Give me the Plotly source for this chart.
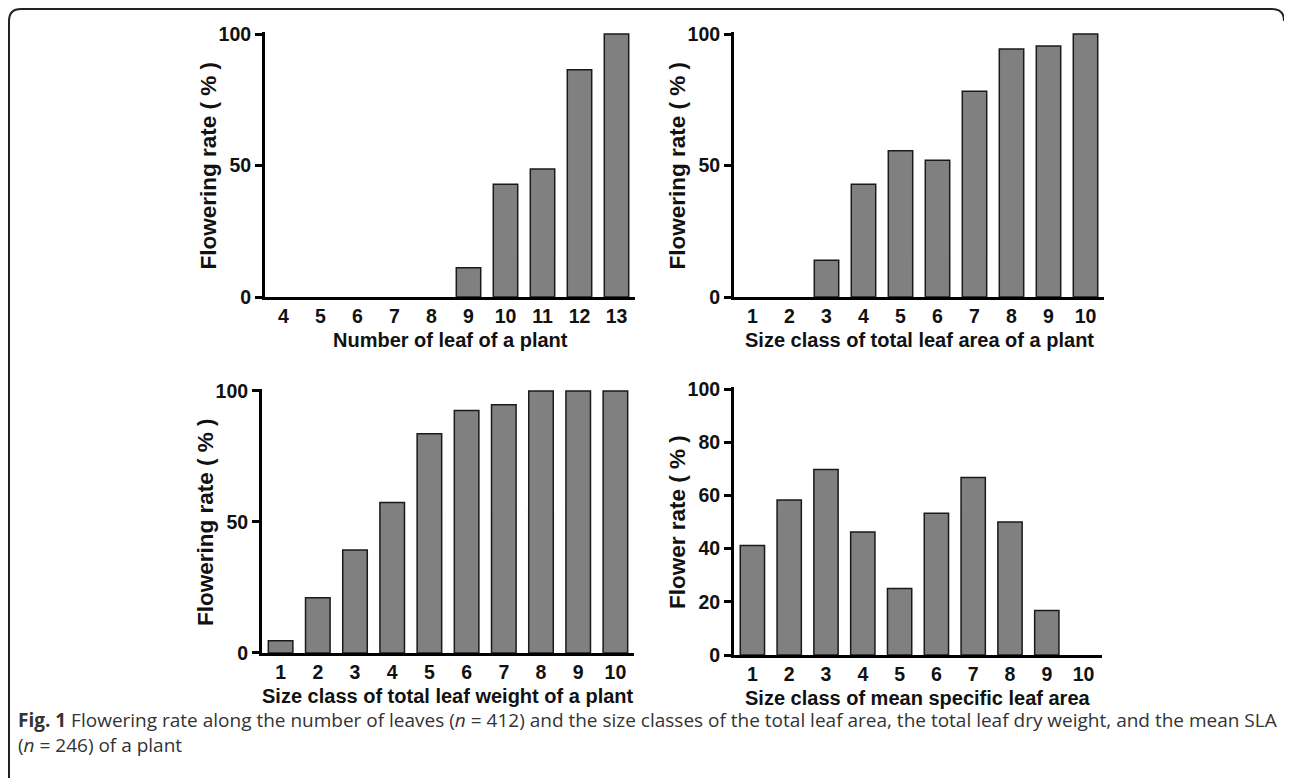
import plotly.graph_objects as go

W, H = 1292, 778

# ---- data ----
leaf_number = ["4", "5", "6", "7", "8", "9", "10", "11", "12", "13"]
flower_by_leaf_number = [0, 0, 0, 0, 0, 11.1, 42.9, 48.7, 86.4, 100]

size_class = ["1", "2", "3", "4", "5", "6", "7", "8", "9", "10"]
flower_by_leaf_area = [0, 0, 14.0, 42.9, 55.6, 52.0, 78.2, 94.3, 95.4, 100]
flower_by_leaf_weight = [4.7, 21.1, 39.3, 57.4, 83.7, 92.6, 94.8, 100, 100, 100]
flower_by_sla = [41.2, 58.3, 69.7, 46.2, 25.0, 53.3, 66.7, 50.0, 16.7, 0]

x_titles = ["Number of leaf of a plant",
            "Size class of total leaf area of a plant",
            "Size class of total leaf weight of a plant",
            "Size class of mean specific leaf area"]
y_titles = ["Flowering rate ( % )", "Flowering rate ( % )",
            "Flowering rate ( % )", "Flower rate ( % )"]

caption1 = ("<b>Fig. 1</b> Flowering rate along the number of leaves (<i>n</i> = 412) and the size "
            "classes of the total leaf area, the total leaf dry weight, and the mean SLA")
caption2 = "(<i>n</i> = 246) of a plant"

# ---- layout geometry (pixels in the photographed page) ----
# x0, x1, y_top(100), y_bottom(0)
panels = [
    (265, 635, 34, 297),
    (734, 1104, 34, 297),
    (262, 634, 391, 653),
    (734, 1102, 389, 655),
]
ymax = 100.6
OFF = 8  # page body margin offset of the plot div


def px(x):
    return (x - OFF) / W


def py(y):
    return 1 - (y - OFF) / H


fig = go.Figure()
datasets = [(leaf_number, flower_by_leaf_number),
            (size_class, flower_by_leaf_area),
            (size_class, flower_by_leaf_weight),
            (size_class, flower_by_sla)]

tickfont = dict(family="Arial, Liberation Sans", size=19.5, color="#111111", weight="bold")
xtitlefont = dict(family="Arial, Liberation Sans", size=20, color="#111111", weight="bold")
ytitlefont = dict(family="Arial, Liberation Sans", size=22.5, color="#111111", weight="bold")

layout = {}
annotations = []
for i, ((cats, vals), (x0, x1, yt, yb)) in enumerate(zip(datasets, panels)):
    n = i + 1
    xa = "x" if n == 1 else f"x{n}"
    ya = "y" if n == 1 else f"y{n}"
    fig.add_trace(go.Bar(
        x=cats, y=vals, xaxis=xa, yaxis=ya,
        marker=dict(color="#808080",
                    line=dict(color="#1a1a1a",
                              width=[1.5 if v > 0 else 0 for v in vals])),
        width=0.66, showlegend=False, hoverinfo="x+y",
    ))
    ytop_px = yb - (yb - yt) * ymax / 100
    xkey = "xaxis" if n == 1 else f"xaxis{n}"
    ykey = "yaxis" if n == 1 else f"yaxis{n}"
    layout[xkey] = dict(
        domain=[px(x0), px(x1)], anchor=ya, type="category",
        range=[-0.5, 9.5], showline=True, linewidth=3, linecolor="black",
        ticks="", showgrid=False, zeroline=False, tickfont=tickfont,
        fixedrange=True, automargin=False,
    )
    if n == 4:
        tv = [0, 20, 40, 60, 80, 100]
    else:
        tv = [0, 50, 100]
    layout[ykey] = dict(
        domain=[py(yb), py(ytop_px)], anchor=xa, range=[0, ymax],
        showline=True, linewidth=3, linecolor="black",
        ticks="outside", ticklen=7, tickwidth=3, tickcolor="black",
        tickvals=tv, showgrid=False, zeroline=False, tickfont=tickfont,
        fixedrange=True, automargin=False,
    )
    # axis titles
    xc = (x0 + x1) / 2
    annotations.append(dict(
        text=x_titles[i], xref="paper", yref="paper",
        x=px(xc), y=py(yb + 43), xanchor="center", yanchor="middle",
        showarrow=False, font=xtitlefont,
    ))
    annotations.append(dict(
        text=y_titles[i], xref="paper", yref="paper",
        x=px(x0 - 57), y=py((yt + yb) / 2), xanchor="center", yanchor="middle",
        textangle=-90, showarrow=False, font=ytitlefont,
    ))

capfont = dict(family="Open Sans", size=19, color="#333333")
annotations.append(dict(text=caption1, xref="paper", yref="paper",
                        x=px(16), y=py(720), xanchor="left", yanchor="middle",
                        showarrow=False, font=capfont))
annotations.append(dict(text=caption2, xref="paper", yref="paper",
                        x=px(16), y=py(745), xanchor="left", yanchor="middle",
                        showarrow=False, font=capfont))

# frame of the figure box
r = 12
path = (f"M {px(9)},{py(H + 20)} L {px(9)},{py(9 + r)} "
        f"Q {px(9)},{py(9)} {px(9 + r)},{py(9)} "
        f"L {px(1284 - r)},{py(9)} Q {px(1284)},{py(9)} {px(1284)},{py(9 + r)}")
shapes = [dict(type="path", xref="paper", yref="paper", path=path,
               line=dict(color="#222222", width=2))]

fig.update_layout(
    width=W, height=H,
    margin=dict(l=0, r=0, t=0, b=0, pad=0, autoexpand=False),
    paper_bgcolor="white", plot_bgcolor="white", showlegend=False,
    annotations=annotations, shapes=shapes, bargap=0.34,
    **layout,
)

fig.write_html("out.html")
